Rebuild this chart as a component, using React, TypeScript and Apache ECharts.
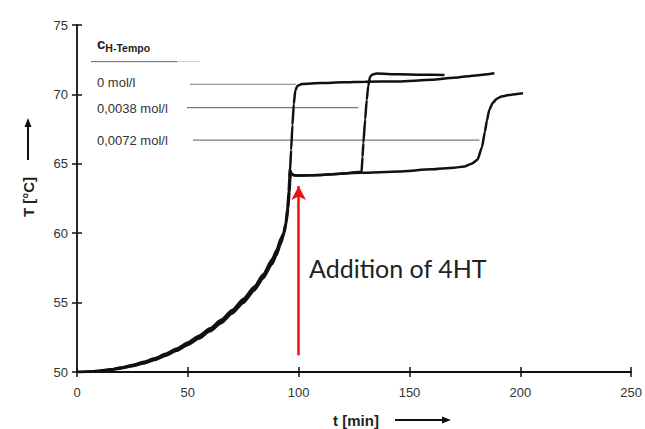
import React, { useEffect, useRef } from "react";
import * as echarts from "echarts";

// ---- data ----
// heating phase (the three runs overlap into one thick band)
const heatTime = [0, 5, 10, 15, 20, 25, 30, 35, 40, 45, 50, 55, 60, 65, 70, 75, 80, 84, 88, 90, 92];
const heatTempA = [50, 50.02, 50.08, 50.17, 50.3, 50.47, 50.68, 50.93, 51.25, 51.62, 52.05, 52.52, 53.05, 53.65, 54.35, 55.12, 56.02, 56.9, 57.95, 58.6, 59.45];
const heatTempB = [50, 50.01, 50.06, 50.14, 50.26, 50.42, 50.62, 50.86, 51.17, 51.53, 51.95, 52.41, 52.93, 53.52, 54.21, 54.98, 55.87, 56.74, 57.77, 58.41, 59.25];
const heatTempC = [50, 50.02, 50.09, 50.19, 50.33, 50.51, 50.73, 50.99, 51.31, 51.69, 52.13, 52.61, 53.15, 53.76, 54.47, 55.26, 56.16, 57.05, 58.12, 58.78, 59.65];

// 0 mol/l
const tA = [93.3, 94.2, 95.0, 95.6, 95.9, 96.1, 96.6, 97.2, 97.8, 98.5, 99.5, 101.5, 110, 120, 130, 145, 160, 170, 180, 188.3];
const TA = [60.0, 60.6, 61.6, 62.8, 63.8, 64.5, 66.0, 67.8, 69.3, 70.3, 70.62, 70.75, 70.82, 70.87, 70.92, 70.93, 71.05, 71.2, 71.37, 71.52];

// 0,0038 mol/l
const tB = [93.5, 94.5, 95.3, 95.9, 96.2, 96.5, 97.5, 100, 110, 120, 128.4, 128.8, 129.2, 130, 130.7, 131.4, 132.2, 133.5, 135.2, 145, 155, 165.8];
const TB = [60.0, 60.8, 61.8, 63.0, 63.9, 64.3, 64.2, 64.15, 64.2, 64.3, 64.43, 65.5, 66.5, 68.2, 69.6, 70.6, 71.28, 71.45, 71.5, 71.45, 71.42, 71.4];

// 0,0072 mol/l
const tC = [93.1, 94.1, 94.9, 95.5, 95.8, 96.0, 96.8, 98, 110, 128, 145, 160, 170, 174.7, 178, 180.7, 182.7, 184, 184.9, 186, 187.6, 189.5, 191.5, 196, 201.2];
const TC = [60.0, 60.7, 61.8, 63.0, 64.0, 64.6, 64.3, 64.15, 64.2, 64.35, 64.45, 64.6, 64.72, 64.8, 65.0, 65.3, 66.2, 67.3, 68.1, 68.9, 69.4, 69.7, 69.85, 69.98, 70.08];

// leader lines from the legend labels to their curves: [tStart, tEnd, T]
const leaderA = [51, 98.8, 70.73];
const leaderB = [49.6, 127, 69.04];
const leaderC = [52.3, 181.6, 66.71];
const headerRule = [6.3, 45.2, 72.36];
const headerDots = [45.2, 55.5, 72.36];

// red arrow: addition of 4HT
const additionTime = 100;
const arrowFrom = 51.2;
const arrowTo = 63.4;

const xTicks = { min: 0, max: 250, interval: 50 };
const yTicks = { min: 50, max: 75, interval: 5 };

const legendLabels = ["0 mol/l", "0,0038 mol/l", "0,0072 mol/l"];

const pairs = (t: number[], T: number[]) => t.map((v, i) => [v, T[i]]);
const withHeat = (heat: number[], t: number[], T: number[]) => [...pairs(heatTime, heat), ...pairs(t, T)];
const seg = (s: number[]) => [[s[0], s[2]], [s[1], s[2]]];

export default function App() {
  const ref = useRef<HTMLDivElement>(null);
  useEffect(() => {
    if (!ref.current) return;
    const chart = echarts.init(ref.current, undefined, { renderer: "svg" });
    const font = "'Liberation Sans', Arial, sans-serif";
    const curve = (name: string, data: number[][]) => ({
      name,
      type: "line",
      data,
      showSymbol: false,
      symbol: "none",
      smooth: 0.2,
      smoothMonotone: "x",
      lineStyle: { color: "#111", width: 2.5 },
      z: 3,
    });
    const leader = (name: string, data: number[][], color = "#7a7a7a", type: any = "solid", width = 1.2) => ({
      name,
      type: "line",
      data,
      symbol: "none",
      lineStyle: { color, width, type },
      z: 2,
    });
    const axisCommon = { type: "value", splitLine: { show: false } };
    chart.setOption({
      animation: false,
      backgroundColor: "#fff",
      grid: { left: 77, right: 10, top: 25, bottom: 57 },
      xAxis: [
        {
          ...axisCommon,
          ...xTicks,
          axisLine: { show: true, lineStyle: { color: "#111", width: 1.8 } },
          axisTick: { show: true, length: 5, lineStyle: { color: "#111", width: 1.5 } },
          axisLabel: { color: "#333", fontSize: 13, fontFamily: font, margin: 14 },
        },
        {
          ...axisCommon,
          ...xTicks,
          position: "bottom",
          axisLine: { show: false },
          axisTick: { show: true, inside: true, length: 5, lineStyle: { color: "#111", width: 1.5 } },
          axisLabel: { show: false },
        },
      ],
      yAxis: [
        {
          ...axisCommon,
          ...yTicks,
          axisLine: { show: true, lineStyle: { color: "#111", width: 1.8 } },
          axisTick: { show: true, length: 5, lineStyle: { color: "#111", width: 1.5 } },
          axisLabel: { color: "#333", fontSize: 13, fontFamily: font, margin: 9 },
        },
        {
          ...axisCommon,
          ...yTicks,
          position: "left",
          axisLine: { show: false },
          axisTick: { show: true, inside: true, length: 5, lineStyle: { color: "#111", width: 1.5 } },
          axisLabel: { show: false },
        },
      ],
      series: [
        leader("header", seg(headerRule), "#666", "solid", 1),
        leader("headerDots", seg(headerDots), "#999", "dotted", 1),
        leader("leaderA", seg(leaderA)),
        leader("leaderB", seg(leaderB)),
        leader("leaderC", seg(leaderC)),
        curve("0 mol/l", withHeat(heatTempA, tA, TA)),
        curve("0,0038 mol/l", withHeat(heatTempB, tB, TB)),
        curve("0,0072 mol/l", withHeat(heatTempC, tC, TC)),
        {
          name: "addition",
          type: "line",
          data: [],
          markLine: {
            silent: true,
            symbol: ["none", "arrow"],
            symbolSize: [11, 14],
            label: { show: false },
            lineStyle: { color: "#f01010", width: 2.5, type: "solid" },
            data: [[{ coord: [additionTime, arrowFrom] }, { coord: [additionTime, arrowTo] }]],
          },
          z: 4,
        },
      ],
      graphic: [
        {
          type: "text",
          x: 28,
          y: 197,
          rotation: Math.PI / 2,
          style: {
            text: "T [°C]",
            font: `bold 15px ${font}`,
            fill: "#222",
            align: "center",
            verticalAlign: "middle",
          },
        },
        { type: "line", shape: { x1: 28, y1: 160, x2: 28, y2: 126 }, style: { stroke: "#111", lineWidth: 2 } },
        { type: "polygon", shape: { points: [[28, 118], [24.5, 127], [31.5, 127]] }, style: { fill: "#111" } },
        {
          type: "text",
          x: 356,
          y: 420,
          style: {
            text: "t [min]",
            font: `bold 15px ${font}`,
            fill: "#222",
            align: "center",
            verticalAlign: "middle",
          },
        },
        { type: "line", shape: { x1: 395, y1: 420, x2: 443, y2: 420 }, style: { stroke: "#111", lineWidth: 2 } },
        { type: "polygon", shape: { points: [[451, 420], [442, 416.5], [442, 423.5]] }, style: { fill: "#111" } },
        {
          type: "text",
          x: 97,
          y: 45,
          style: {
            text: "{c|c}{s|H-Tempo}",
            fill: "#222",
            verticalAlign: "middle",
            rich: {
              c: { fontSize: 15, fontWeight: "bold", fontFamily: font, fill: "#222", padding: [0, 0, 3, 0] },
              s: { fontSize: 10.5, fontWeight: "bold", fontFamily: font, fill: "#222", padding: [5, 0, 0, 0] },
            },
          },
        },
        ...legendLabels.map((t, i) => ({
          type: "text",
          x: 97,
          y: [82, 108.5, 140][i],
          style: { text: t, font: `13px ${font}`, fill: "#333", verticalAlign: "middle" },
        })),
        {
          type: "text",
          x: 309,
          y: 268,
          style: {
            text: "Addition of 4HT",
            font: `25px Lato, 'Open Sans', sans-serif`,
            fill: "#222",
            verticalAlign: "middle",
          },
        },
      ],
    });
    return () => chart.dispose();
  }, []);
  return <div ref={ref} style={{ width: 645, height: 429, position: "absolute", left: 0, top: 0 }} />;
}
